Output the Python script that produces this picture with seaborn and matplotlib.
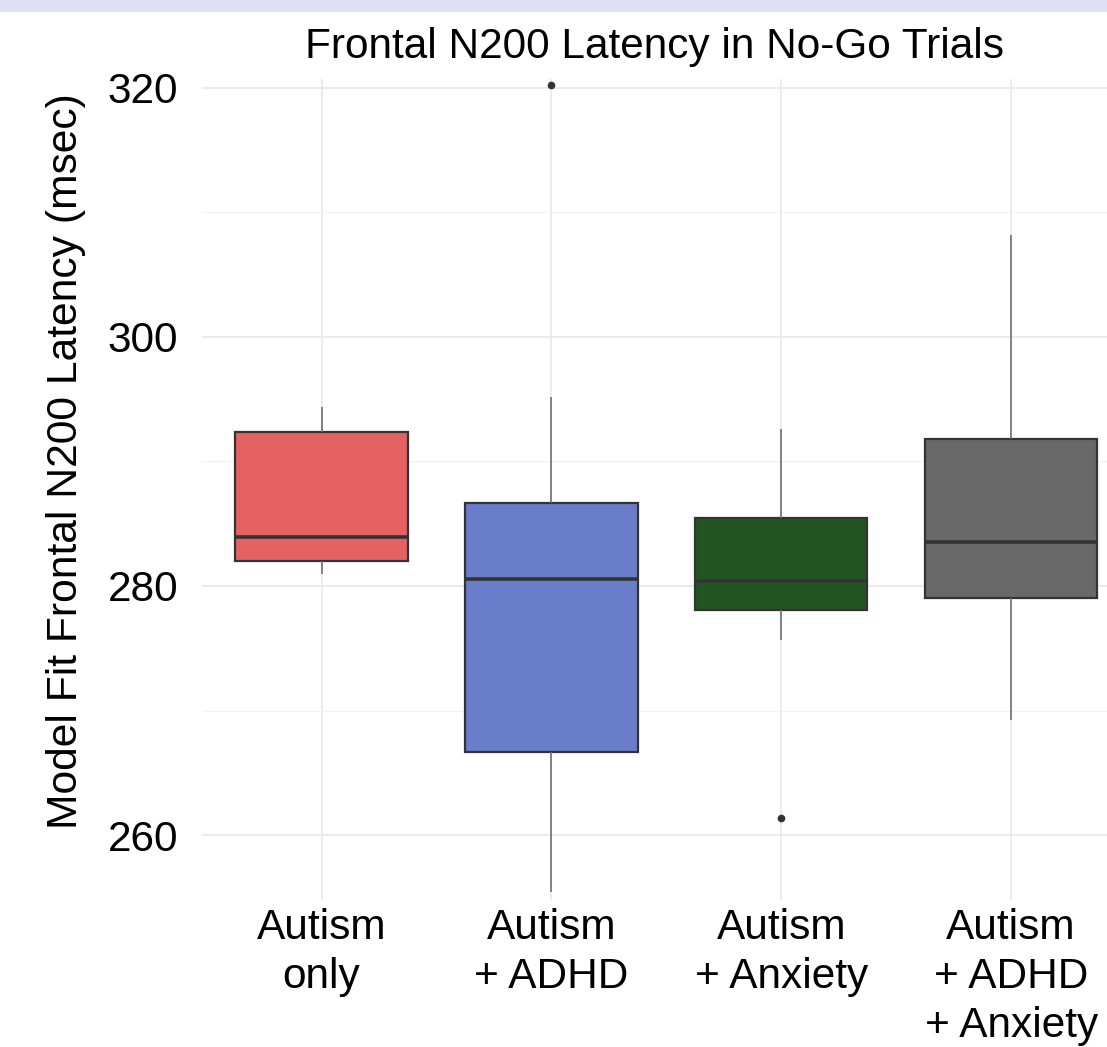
import matplotlib
matplotlib.use("Agg")
import matplotlib.pyplot as plt
import seaborn as sns
import pandas as pd
from matplotlib.patches import Rectangle
from matplotlib.ticker import MultipleLocator

groups = ["Autism\nonly", "Autism\n+ ADHD", "Autism\n+ Anxiety", "Autism\n+ ADHD\n+ Anxiety"]
autism_only = [281.0, 281.5, 282.0, 283.0, 283.9, 287.0, 292.4, 293.5, 294.4]
autism_adhd = [255.4, 262.0, 266.7, 274.0, 280.6, 284.0, 286.7, 295.2, 320.2]
autism_anxiety = [261.4, 275.7, 278.1, 279.5, 280.4, 283.0, 285.5, 288.0, 292.6]
autism_adhd_anxiety = [269.2, 275.0, 279.0, 281.0, 283.5, 288.0, 291.8, 300.0, 308.2]
colors = ["#E46262", "#6A7DCB", "#225522", "#696969"]

values = [autism_only, autism_adhd, autism_anxiety, autism_adhd_anxiety]
df = pd.DataFrame({
    "group": [g for g, v in zip(groups, values) for _ in v],
    "latency": [x for v in values for x in v],
})

sns.set_theme(style="white")
plt.rcParams["font.family"] = ["Liberation Sans", "DejaVu Sans"]

W, H = 1107, 1047
fig = plt.figure(figsize=(W / 100, H / 100), dpi=100)
fig.patch.set_facecolor("white")
fig.patches.append(Rectangle((0, 1 - 12 / H), 1, 12 / H, transform=fig.transFigure,
                             facecolor="#DDE1F2", edgecolor="none", zorder=0))

ax = fig.add_axes([202 / W, 1 - 900 / H, 1 - 202 / W, (900 - 79) / H])

sns.boxplot(data=df, x="group", y="latency", hue="group", order=groups, hue_order=groups,
            palette=colors, saturation=1, legend=False, width=0.75, ax=ax, linecolor="#333333",
            linewidth=1.6, fliersize=5, whis=1.5,
            whiskerprops=dict(color="#6f6f6f", linewidth=1.2),
            capprops=dict(linewidth=0),
            medianprops=dict(color="#333333", linewidth=2.6),
            flierprops=dict(marker="o", markerfacecolor="#333333", markeredgecolor="#333333",
                            markersize=4.5))

ax.set_xlim(-0.52, 3.417)
ax.set_ylim(254.78, 320.72)
ax.yaxis.set_major_locator(MultipleLocator(20))
ax.yaxis.set_minor_locator(MultipleLocator(10))
ax.grid(True, which="major", color="#EBEBEB", linewidth=1.4, zorder=0)
ax.grid(True, which="minor", axis="y", color="#F2F2F2", linewidth=0.8, zorder=0)
ax.set_axisbelow(True)
for s in ax.spines.values():
    s.set_visible(False)
ax.tick_params(axis="both", which="both", length=0)
ax.tick_params(axis="y", labelsize=30.5, pad=17, labelcolor="black")
ax.tick_params(axis="x", labelsize=30.5, pad=6, labelcolor="black")
for lab in ax.get_xticklabels():
    lab.set_linespacing(1.28)
ax.set_xlabel("")
ax.set_ylabel("Model Fit Frontal N200 Latency (msec)", fontsize=30.7, color="black")
ax.yaxis.set_label_coords(-0.128, 0.535)
ax.set_title("Frontal N200 Latency in No-Go Trials", fontsize=30.5, pad=15, color="black")

fig.savefig("out.png", dpi=100)
